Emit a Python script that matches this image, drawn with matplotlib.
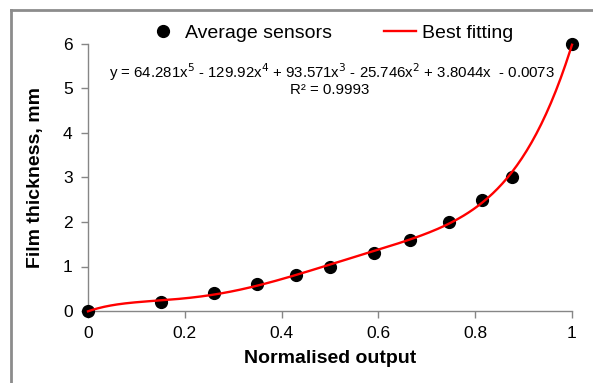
import numpy as np
import matplotlib
matplotlib.use("Agg")
import matplotlib.pyplot as plt
from matplotlib.lines import Line2D

plt.rcParams['font.family'] = ['Liberation Sans', 'DejaVu Sans']

# Data
norm_output = [0.0, 0.15, 0.26, 0.35, 0.43, 0.50, 0.59, 0.665, 0.745, 0.815, 0.875, 1.0]
thickness = [0.0, 0.2, 0.4, 0.6, 0.8, 1.0, 1.3, 1.6, 2.0, 2.5, 3.0, 6.0]
fit_coeffs = [64.281, -129.92, 93.571, -25.746, 3.8044, -0.0073]
x_ticks = [0, 0.2, 0.4, 0.6, 0.8, 1]
x_tick_labels = ["0", "0.2", "0.4", "0.6", "0.8", "1"]
y_ticks = [0, 1, 2, 3, 4, 5, 6]

fig = plt.figure(figsize=(5.93, 3.83), dpi=100)
ax = fig.add_axes([88/593, 1-311/383, (572-88)/593, (311-44)/383])

xf = np.linspace(0, 1, 300)
yf = np.polyval(fit_coeffs, xf)
ax.plot(norm_output, thickness, 'o', color='black', markersize=8.5,
        clip_on=False, zorder=3, label='Average sensors')
ax.plot(xf, yf, '-', color='#ff0000', lw=1.7, clip_on=False, zorder=4, label='Best fitting')

ax.set_xlim(0, 1)
ax.set_ylim(0, 6)
ax.set_xticks(x_ticks)
ax.set_xticklabels(x_tick_labels)
ax.set_yticks(y_ticks)
for s in ['top', 'right']:
    ax.spines[s].set_visible(False)
for s in ['left', 'bottom']:
    ax.spines[s].set_color('#868686')
    ax.spines[s].set_linewidth(1.0)
ax.tick_params(axis='both', direction='out', length=5, width=1.0, color='#868686',
               labelsize=12.5, labelcolor='black', pad=6)

ax.set_xlabel('Normalised output', fontsize=14, fontweight='bold', labelpad=6)
ax.set_ylabel('Film thickness, mm', fontsize=14, fontweight='bold', labelpad=14)

fig.text(332/593, 1-72/383,
         'y = 64.281x$^5$ - 129.92x$^4$ + 93.571x$^3$ - 25.746x$^2$ + 3.8044x  - 0.0073',
         ha='center', va='center', fontsize=10.8)
fig.text(330/593, 1-90/383, 'R² = 0.9993', ha='center', va='center', fontsize=10.8)

leg = ax.legend(loc='center', ncol=2, frameon=False,
                fontsize=14, handlelength=1.65, handletextpad=0.3, columnspacing=2.7,
                borderaxespad=0)
leg.set_bbox_to_anchor((0.5, (311-33)/267), transform=ax.transAxes)

# figure frame
fig.add_artist(Line2D([11/593, 1], [1-10/383, 1-10/383], color='#8c8c8c', lw=2, transform=fig.transFigure))
fig.add_artist(Line2D([11/593, 11/593], [0, 1-10/383], color='#8c8c8c', lw=2, transform=fig.transFigure))

fig.savefig('out.png', dpi=100)
